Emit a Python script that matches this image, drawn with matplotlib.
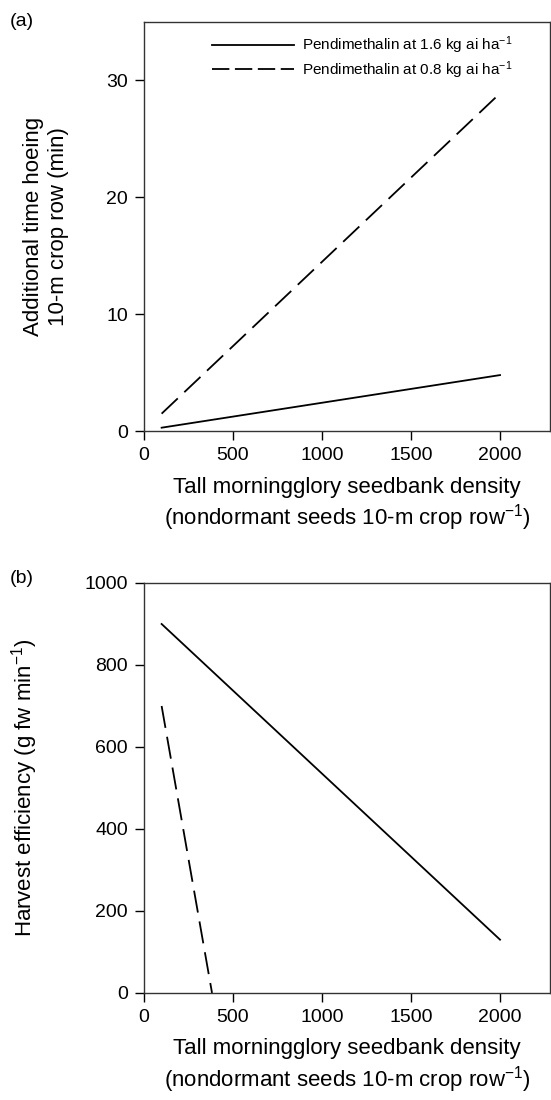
import matplotlib
matplotlib.use("Agg")
import matplotlib.pyplot as plt
from matplotlib.lines import Line2D

plt.rcParams['font.family'] = ['Liberation Sans', 'DejaVu Sans']
plt.rcParams['mathtext.fontset'] = 'custom'
plt.rcParams['mathtext.rm'] = 'Liberation Sans'
plt.rcParams['mathtext.it'] = 'Liberation Sans'
plt.rcParams['lines.scale_dashes'] = False

# data: fitted lines (endpoints)
density = [100, 2000]
hoe_high = [0.3, 4.8]      # pendimethalin 1.6 kg ai/ha
hoe_low = [1.5, 28.9]      # pendimethalin 0.8 kg ai/ha

eff_density_high = [100, 2000]
eff_high = [900, 130]
eff_density_low = [100, 383]
eff_low = [700, 0]

labels = ['Pendimethalin at 1.6 kg ai ha$^{-1}$',
          'Pendimethalin at 0.8 kg ai ha$^{-1}$']

xticks = [0, 500, 1000, 1500, 2000]
yticks_a = [0, 10, 20, 30]
yticks_b = [0, 200, 400, 600, 800, 1000]

xlab = 'Tall morningglory seedbank density\n(nondormant seeds 10-m crop row$^{-1}$)'

fig = plt.figure(figsize=(5.51, 11), dpi=100)
ax1 = fig.add_axes([0.261, 0.608, 0.737, 0.372])
ax2 = fig.add_axes([0.261, 0.0973, 0.737, 0.3727])

dash = (16, 6.5)

# 面板 (a)
ax1.plot(density, hoe_high, color='black', lw=1.3)
ax1.plot(density, hoe_low, color='black', lw=1.3, dashes=dash)
ax1.set_xlim(0, 2280)
ax1.set_ylim(0, 35)
ax1.set_xticks(xticks)
ax1.set_yticks(yticks_a)
ax1.set_ylabel('Additional time hoeing\n10-m crop row (min)', fontsize=16)
ax1.yaxis.set_label_coords(-0.185, 0.5)
ax1.set_xlabel(xlab, fontsize=16, labelpad=9)

handles = [Line2D([], [], color='black', lw=1.3),
           Line2D([], [], color='black', lw=1.3, dashes=(12.5, 4))]
ax1.legend(handles, labels, loc='upper left', bbox_to_anchor=(0.167, 0.97),
           frameon=False, fontsize=11, handlelength=5.4, handletextpad=0.5,
           borderaxespad=0, borderpad=0, labelspacing=0.2)
fig.text(0.018, 0.980, '(a)', fontsize=14, ha='left', va='center')

# 面板 (b)
ax2.plot(eff_density_high, eff_high, color='black', lw=1.3)
ax2.plot(eff_density_low, eff_low, color='black', lw=1.3, dashes=dash)
ax2.set_xlim(0, 2280)
ax2.set_ylim(0, 1000)
ax2.set_xticks(xticks)
ax2.set_yticks(yticks_b)
ax2.set_ylabel('Harvest efficiency (g fw min$^{-1}$)', fontsize=16)
ax2.yaxis.set_label_coords(-0.255, 0.5)
ax2.set_xlabel(xlab, fontsize=16, labelpad=9)
fig.text(0.018, 0.4745, '(b)', fontsize=14, ha='left', va='center')

for ax in (ax1, ax2):
    ax.tick_params(direction='out', length=6.5, width=1, labelsize=14, pad=5,
                   top=False, right=False)
    for s in ax.spines.values():
        s.set_linewidth(1)
        s.set_color('#333333')

fig.savefig('out.png', dpi=100)
